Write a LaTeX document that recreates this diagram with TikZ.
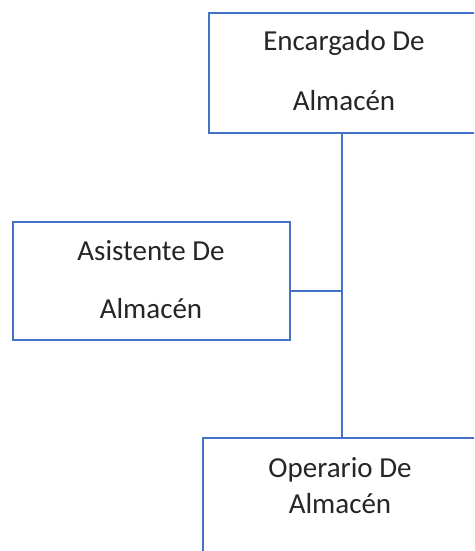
\documentclass[tikz,border=0pt]{standalone}
\usepackage{fontspec}
\setmainfont{Carlito}
\definecolor{offblue}{HTML}{4472C4}
\begin{document}
\begin{tikzpicture}[x=1pt,y=-1pt,
  box/.style={draw=offblue,line width=1.6pt,rectangle,inner sep=0pt,outer sep=0pt,anchor=north west},
  lbl/.style={anchor=base,inner sep=0pt,font=\fontsize{29}{35}\selectfont,text=black!85},
  conn/.style={draw=offblue,line width=1.6pt}]
\useasboundingbox (0,0) rectangle (474,551);
\clip (0,0) rectangle (474,551);
\fill[white] (0,0) rectangle (474,551);
% boxes
\node[box,minimum width=300pt,minimum height=120pt] (top) at (209,13) {};
\node[box,minimum width=277pt,minimum height=118pt] (asst) at (13,222) {};
\node[box,minimum width=300pt,minimum height=160pt] (bot) at (203,438) {};
% labels
\node[lbl] (t1) at (344,51) {Encargado De};
\node[lbl] (t2) at (344,110) {Almacén};
\node[lbl] (a1) at (151,260) {Asistente De};
\node[lbl] (a2) at (151,318) {Almacén};
\node[lbl] (b1) at (340,477) {Operario De};
\node[lbl] (b2) at (340,513) {Almacén};
% connectors
\coordinate (j) at (342,291);
\draw[conn] (top.south -| j) -- (j) -- (bot.north -| j);
\draw[conn] (asst.east |- j) -- (j);
\end{tikzpicture}
\end{document}
